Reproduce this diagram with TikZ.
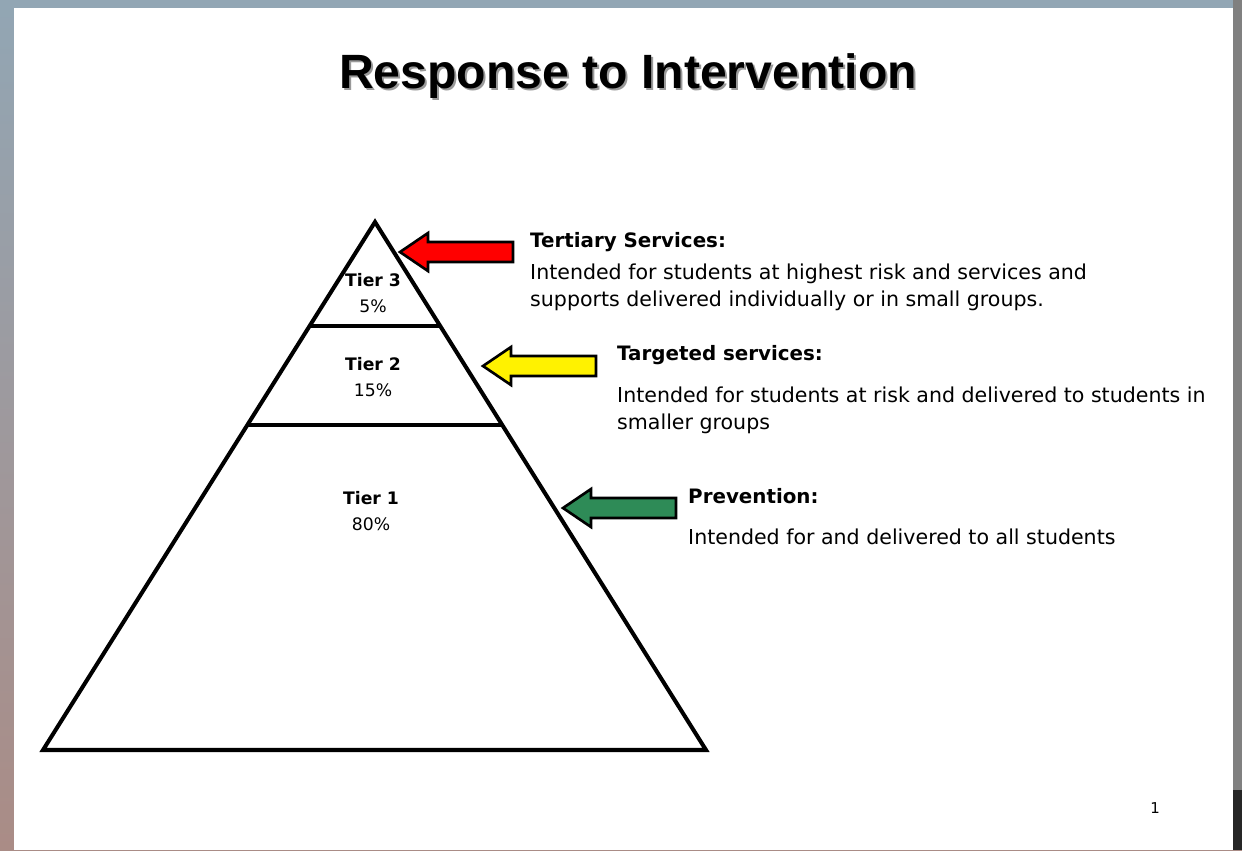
\documentclass[tikz,border=0pt]{standalone}
\usepackage{fontspec}
\setmainfont{DejaVu Sans}
\newfontfamily\titlefont{Liberation Sans}
\usetikzlibrary{calc}

% block arrow pointing left, tip at (#1,#2)
\newcommand\tierarrow[3]{
        \draw [blockarrow, fill=#3] (#1,#2) -- ++(28,-19) -- ++(0,9) -- ++(85,0)
          -- ++(0,20) -- ++(-85,0) -- ++(0,9) -- cycle;
}

\definecolor{bgtop}{RGB}{146,166,180}
\definecolor{bgbottom}{RGB}{170,140,134}
\definecolor{bgright}{RGB}{128,128,128}
\definecolor{prevgreen}{RGB}{46,139,87}

\begin{document}
\begin{tikzpicture}[x=0.02cm, y=-0.02cm,
        blockarrow/.style={draw=black, line width=1.5pt, line join=miter},
        pyramid/.style={draw=black, line width=2.3pt, line join=miter},
        tierlabel/.style={align=center, font=\fontsize{9.8}{14.5}\selectfont},
        heading/.style={anchor=west, font=\fontsize{11.3}{14}\selectfont\bfseries},
        body/.style={anchor=north west, align=left, font=\fontsize{11.7}{15.3}\selectfont}
        ]
        % backdrop and slide
        \shade [top color=bgtop, bottom color=bgbottom] (0,0) rectangle (1242,850);
        \fill [bgright] (1233,0) rectangle (1242,850);
        \fill [black!85] (1233,790) rectangle (1242,850);
        \fill [white] (14,8) rectangle (1233,850);
        \useasboundingbox (0,0) rectangle (1242,850);

        % title
        \node [text=black!40, font=\titlefont\fontsize{27.4}{30}\selectfont\bfseries] at (630,78) {Response to Intervention};
        \node [name=title, font=\titlefont\fontsize{27.4}{30}\selectfont\bfseries] at (628,76) {Response to Intervention};

        % pyramid
        \coordinate (apex) at (375,222);
        \coordinate (bl) at (43,750);
        \coordinate (br) at (706,750);
        \draw [pyramid] (apex) -- (br) -- (bl) -- cycle;
        \draw [pyramid] ($(apex)!0.197!(bl)$) -- ($(apex)!0.197!(br)$);
        \draw [pyramid] ($(apex)!0.385!(bl)$) -- ($(apex)!0.385!(br)$);

        \node [tierlabel, name=t3] at (373,293) {\textbf{Tier 3}\\5\%};
        \node [tierlabel, name=t2] at (373,377) {\textbf{Tier 2}\\15\%};
        \node [tierlabel, name=t1] at (371,511) {\textbf{Tier 1}\\80\%};

        % arrows
        \tierarrow{400}{252}{red}
        \tierarrow{483}{366}{yellow}
        \tierarrow{563}{508}{prevgreen}

        % descriptions
        \node [heading, name=h3] at (524,242) {Tertiary Services:};
        \node [body, name=d3] at (524,258) {Intended for students at highest risk and services and\\supports delivered individually or in small groups.};
        \node [heading, name=h2] at (611,355) {Targeted services:};
        \node [body, name=d2] at (611,381) {Intended for students at risk and delivered to students in\\smaller groups};
        \node [heading, name=h1] at (682,496) {Prevention:};
        \node [body, name=d1] at (682,523) {Intended for and delivered to all students};

        \node [name=pagenum, font=\fontsize{8.5}{10}\selectfont] at (1155,808) {1};
      \end{tikzpicture}
\end{document}
